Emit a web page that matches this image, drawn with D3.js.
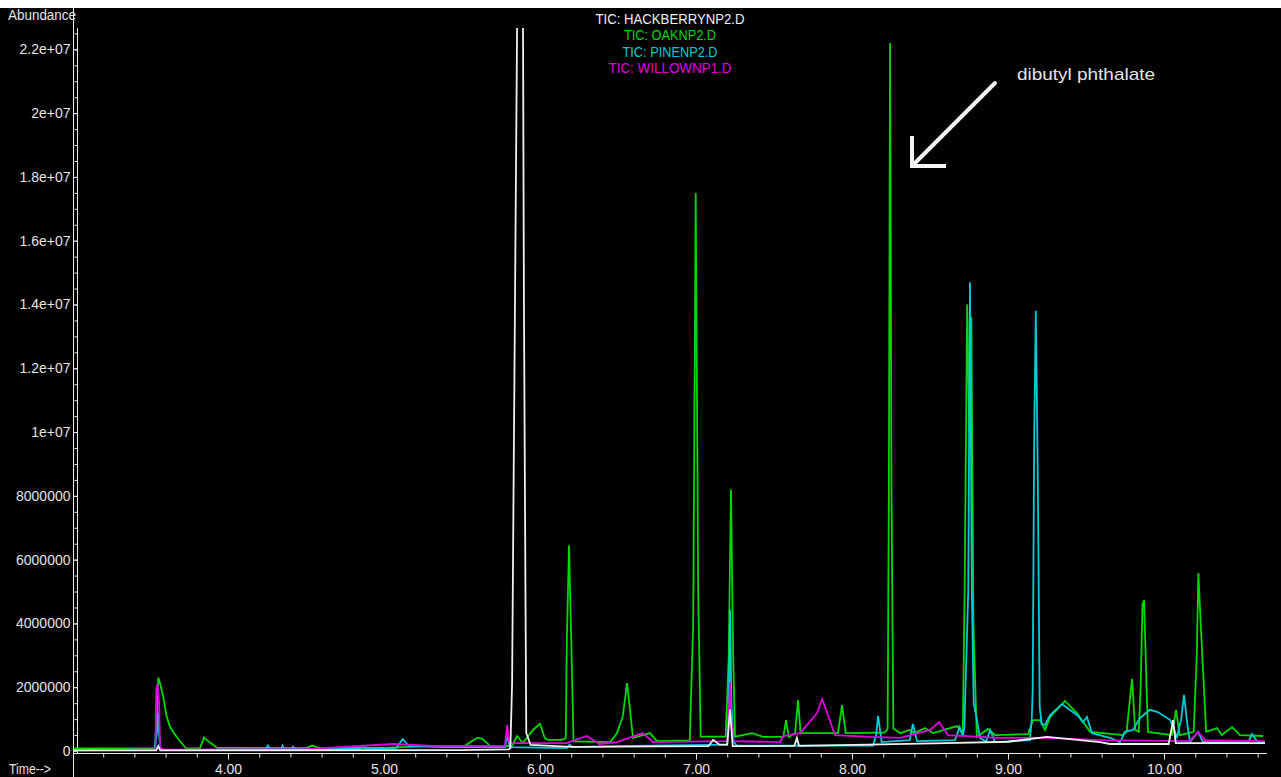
<!DOCTYPE html>
<html>
<head>
<meta charset="utf-8">
<script src="https://cdn.jsdelivr.net/npm/d3@7"></script>
<style>
  body { margin: 0; background: #fff; }
  svg { display: block; }
  text { font-family: "Liberation Sans", Arial, sans-serif; fill: #e4e4e4; }
</style>
</head>
<body>
<svg id="chart" width="1281" height="777"></svg>
<script>
// retention time (min), abundance (millions)
const hackberry = [
  [3.01,0.02],[3.54,0.02],[3.553,0.15],[3.565,0.02],[5.50,0.03],[5.80,0.05],[5.81,0.09],
  [5.821,2.1],[5.846,18.2],[5.853,22.7],[5.856,25],[5.886,25],[5.891,22.7],[5.897,14.0],
  [5.907,4.7],[5.912,0.56],[5.94,0.19],[6.20,0.13],[7.08,0.15],[7.11,0.35],[7.15,0.20],
  [7.20,0.20],[7.218,1.3],[7.235,0.15],[7.63,0.16],[7.647,0.41],[7.66,0.16],[8.10,0.20],
  [8.60,0.25],[9.00,0.29],[9.25,0.44],[9.59,0.28],[9.654,0.22],[10.03,0.22],[10.058,0.97],
  [10.075,0.25],[10.647,0.25]
];
const oak = [
  [3.01,0.08],[3.53,0.08],[3.545,1.2],[3.553,2.30],[3.564,2.13],[3.585,1.70],[3.607,1.08],
  [3.628,0.76],[3.671,0.44],[3.731,0.08],[3.82,0.08],[3.846,0.42],[3.88,0.28],[3.93,0.10],
  [4.50,0.09],[4.54,0.17],[4.58,0.10],[5.00,0.10],[5.31,0.16],[5.52,0.17],[5.56,0.30],
  [5.60,0.42],[5.63,0.38],[5.68,0.16],[5.82,0.16],[5.853,0.47],[5.89,0.25],[5.955,0.66],
  [6.00,0.85],[6.03,0.41],[6.05,0.35],[6.14,0.35],[6.165,0.40],[6.172,3.5],[6.186,6.45],
  [6.20,3.5],[6.215,0.30],[6.45,0.28],[6.494,0.56],[6.53,1.07],[6.558,2.13],[6.596,0.41],
  [6.705,0.56],[6.75,0.31],[6.96,0.33],[6.982,4.0],[6.998,17.5],[7.014,5.0],[7.03,0.45],
  [7.11,0.45],[7.19,0.45],[7.21,3.0],[7.224,8.2],[7.238,3.0],[7.25,0.45],[7.36,0.56],
  [7.43,0.44],[7.56,0.44],[7.577,0.97],[7.595,0.44],[7.635,0.56],[7.654,1.6],[7.67,0.56],
  [7.91,0.56],[7.936,1.44],[7.96,0.56],[8.21,0.58],[8.228,0.7],[8.236,8.0],[8.244,22.2],
  [8.253,8.0],[8.265,0.7],[8.28,0.66],[8.31,0.56],[8.37,0.66],[8.40,0.56],[8.468,0.72],
  [8.52,0.56],[8.673,0.78],[8.71,0.56],[8.722,5.0],[8.738,14.0],[8.752,10.0],[8.765,13.6],
  [8.778,4.0],[8.80,0.44],[8.872,0.69],[8.917,0.50],[9.128,0.53],[9.16,0.97],[9.205,0.97],
  [9.237,0.66],[9.27,1.07],[9.365,1.57],[9.442,1.19],[9.526,0.60],[9.737,0.50],[9.76,0.6],
  [9.795,2.26],[9.815,0.66],[9.838,0.6],[9.85,2.0],[9.862,4.6],[9.872,4.73],[9.885,2.5],
  [9.897,0.6],[10.05,0.50],[10.077,1.29],[10.10,0.50],[10.19,0.6],[10.21,3.0],[10.22,5.58],
  [10.235,4.0],[10.27,0.6],[10.34,0.72],[10.37,0.50],[10.436,0.75],[10.487,0.50],[10.635,0.47]
];
const pine = [
  [3.01,0.02],[3.53,0.03],[3.545,0.6],[3.552,1.2],[3.56,0.4],[3.57,0.03],[4.24,0.05],
  [4.256,0.17],[4.27,0.05],[4.34,0.05],[4.35,0.17],[4.36,0.05],[4.41,0.05],[4.417,0.13],
  [4.43,0.05],[4.85,0.08],[4.865,0.17],[4.88,0.08],[5.08,0.10],[5.12,0.38],[5.16,0.15],
  [5.40,0.12],[5.775,0.12],[5.79,0.50],[5.805,0.12],[6.17,0.09],[6.19,0.20],[6.21,0.12],
  [6.60,0.16],[7.20,0.20],[7.21,1.5],[7.218,4.42],[7.227,1.5],[7.24,0.30],[7.26,0.17],
  [8.135,0.17],[8.155,0.5],[8.167,1.1],[8.19,0.28],[8.37,0.34],[8.39,0.85],[8.417,0.31],
  [8.66,0.34],[8.69,0.75],[8.71,0.45],[8.72,0.75],[8.745,5.0],[8.756,14.7],[8.768,5.0],
  [8.78,1.5],[8.795,1.13],[8.82,0.41],[8.86,0.30],[8.885,0.66],[8.917,0.28],[9.14,0.34],
  [9.152,1.0],[9.158,1.9],[9.168,10.0],[9.178,13.8],[9.19,9.0],[9.203,1.4],[9.215,0.85],
  [9.237,0.82],[9.27,1.13],[9.346,1.47],[9.45,1.10],[9.48,0.90],[9.506,1.07],[9.538,0.56],
  [9.654,0.41],[9.718,0.28],[9.75,0.60],[9.80,0.66],[9.846,1.03],[9.91,1.29],[9.96,1.22],
  [10.04,0.97],[10.083,0.44],[10.11,1.0],[10.128,1.76],[10.15,0.8],[10.167,0.28],
  [10.218,0.60],[10.25,0.28],[10.54,0.28],[10.564,0.53],[10.60,0.28],[10.647,0.25]
];
const willow = [
  [3.01,0.02],[3.535,0.05],[3.54,1.9],[3.548,2.1],[3.558,1.5],[3.565,0.08],[3.60,0.04],
  [4.50,0.06],[5.06,0.22],[5.31,0.16],[5.70,0.16],[5.775,0.16],[5.79,0.82],[5.80,0.30],
  [5.82,0.25],[6.17,0.25],[6.30,0.47],[6.38,0.22],[6.494,0.28],[6.66,0.56],[6.724,0.28],
  [7.19,0.31],[7.20,0.35],[7.21,1.2],[7.218,2.13],[7.226,1.0],[7.24,0.31],[7.54,0.28],
  [7.558,0.47],[7.667,0.56],[7.776,1.19],[7.808,1.63],[7.846,1.13],[7.89,0.50],[8.115,0.44],
  [8.31,0.41],[8.50,0.66],[8.558,0.91],[8.615,0.50],[8.95,0.41],[9.25,0.41],[9.60,0.34],
  [10.167,0.31],[10.218,0.60],[10.263,0.34],[10.647,0.31]
];

const seriesNames = ["TIC: HACKBERRYNP2.D", "TIC: OAKNP2.D", "TIC: PINENP2.D", "TIC: WILLOWNP1.D"];
const seriesColors = ["#f0f0f0", "#00d800", "#00ccd8", "#e000e0"];
const yTicks = [0, 2, 4, 6, 8, 10, 12, 14, 16, 18, 20, 22];
const yTickLabels = ["0", "2000000", "4000000", "6000000", "8000000", "1e+07",
  "1.2e+07", "1.4e+07", "1.6e+07", "1.8e+07", "2e+07", "2.2e+07"];
const xTicks = [4, 5, 6, 7, 8, 9, 10];
const xTickLabels = ["4.00", "5.00", "6.00", "7.00", "8.00", "9.00", "10.00"];

const svg = d3.select("#chart");
svg.append("rect").attr("x", 0).attr("y", 8).attr("width", 1281).attr("height", 769).attr("fill", "#000");

const x = d3.scaleLinear().domain([3, 10.66]).range([72, 1267]);
const y = d3.scaleLinear().domain([0, 22.67]).range([751, 28]);

// frame line on the left
svg.append("line").attr("x1", 73.5).attr("x2", 73.5).attr("y1", 8).attr("y2", 777)
  .attr("stroke", "#e8e8e8");

// y axis
const yAxisG = svg.append("g").attr("transform", "translate(77.5,0)");
yAxisG.call(d3.axisLeft(y).tickValues(d3.range(0, 22.6, 0.5)).tickSize(3).tickFormat(""));
yAxisG.append("g").call(d3.axisLeft(y).tickValues(yTicks).tickSize(4).tickPadding(3)
  .tickFormat((d, i) => yTickLabels[i]));
yAxisG.selectAll(".domain").remove();
yAxisG.append("line").attr("y1", 28).attr("y2", 753).attr("stroke", "#e8e8e8");
yAxisG.selectAll(".tick line").attr("stroke", "#e8e8e8");
yAxisG.selectAll(".tick text").style("font-size", "14px").style("font-family", "Liberation Sans, Arial")
  .attr("fill", "#e4e4e4");

// x axis
const xAxisG = svg.append("g").attr("transform", "translate(0,753.5)");
xAxisG.call(d3.axisBottom(x).tickValues(d3.range(3.2, 10.65, 0.2)).tickSize(4).tickFormat(""));
xAxisG.append("g").call(d3.axisBottom(x).tickValues(xTicks).tickSize(6)
  .tickFormat((d, i) => xTickLabels[i]));
xAxisG.selectAll(".domain").remove();
xAxisG.append("line").attr("x1", 73).attr("x2", 1267).attr("stroke", "#e8e8e8");
xAxisG.selectAll(".tick line").attr("stroke", "#e8e8e8");
xAxisG.selectAll(".tick text").attr("y", 20).attr("dy", 0).style("font-size", "14px")
  .style("font-family", "Liberation Sans, Arial").attr("fill", "#e4e4e4");

svg.append("text").attr("x", 8).attr("y", 20).attr("textLength", 68)
  .attr("lengthAdjust", "spacingAndGlyphs").style("font-size", "14px").text("Abundance");
svg.append("text").attr("x", 9).attr("y", 774).attr("textLength", 42)
  .attr("lengthAdjust", "spacingAndGlyphs").style("font-size", "14px").text("Time-->");

// traces
svg.append("clipPath").attr("id", "plot").append("rect")
  .attr("x", 74).attr("y", 28).attr("width", 1193).attr("height", 725);

const line = d3.line().x(d => x(d[0])).y(d => y(d[1]));
const plot = svg.append("g").attr("clip-path", "url(#plot)");
[oak, pine, willow, hackberry].forEach((s, k) => {
  const idx = [1, 2, 3, 0][k];
  plot.append("path").datum(s).attr("d", line).attr("fill", "none")
    .attr("stroke", seriesColors[idx]).attr("stroke-width", 1.8);
});

// legend
const legendWidths = [149, 92, 95, 123];
svg.selectAll(".legend").data(seriesNames).enter().append("text")
  .attr("class", "legend")
  .attr("x", 670).attr("y", (d, i) => 24 + i * 16.4)
  .attr("text-anchor", "middle")
  .attr("textLength", (d, i) => legendWidths[i])
  .attr("lengthAdjust", "spacingAndGlyphs")
  .style("font-size", "15px")
  .style("fill", (d, i) => seriesColors[i])
  .text(d => d);

// annotation arrow
svg.append("line").attr("x1", 995).attr("y1", 83).attr("x2", 913).attr("y2", 165)
  .attr("stroke", "#f4f4f4").attr("stroke-width", 4).attr("stroke-linecap", "round");
svg.append("polyline").attr("points", "912,136 912,166 946,166")
  .attr("fill", "none").attr("stroke", "#f4f4f4").attr("stroke-width", 4);
svg.append("text").attr("x", 1017).attr("y", 80).attr("textLength", 138)
  .attr("lengthAdjust", "spacingAndGlyphs").style("font-size", "17px").text("dibutyl phthalate");
</script>
</body>
</html>
